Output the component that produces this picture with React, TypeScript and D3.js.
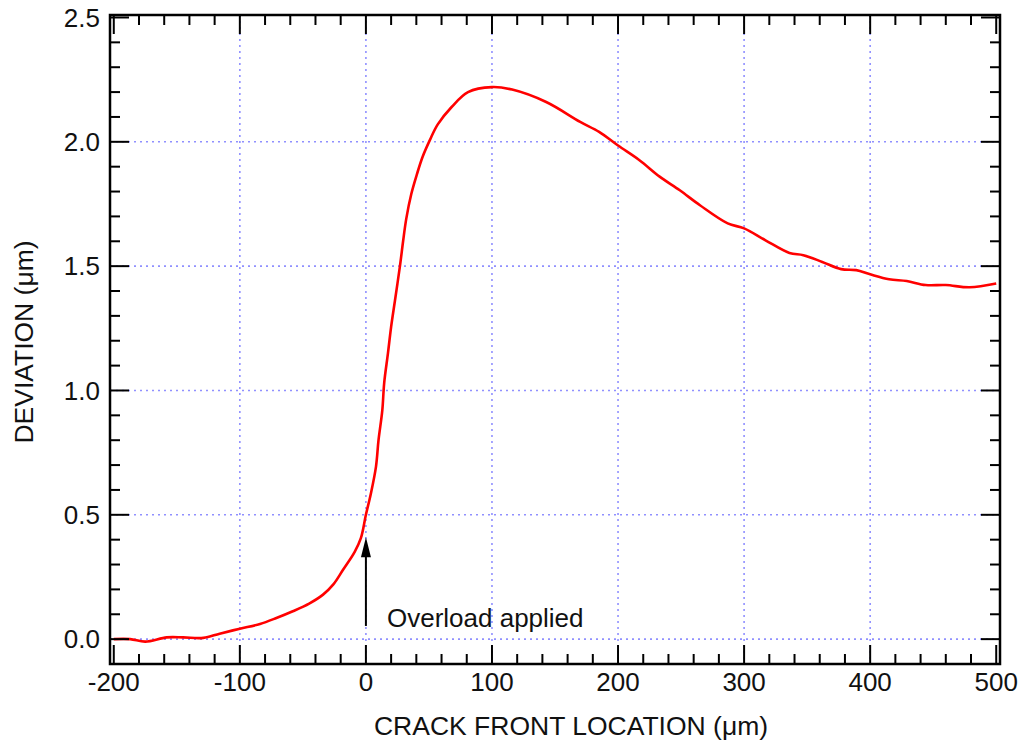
import * as d3 from "d3";

// crack front location (um) vs deviation (um)
const xs = [
  -200, -187, -175, -158, -145, -129, -116, -100, -84, -71, -58, -45, -34, -26, -18, -9, -4, 0, 4, 8, 10,
  13, 14.5, 17.5, 20, 23, 27, 29.5, 32, 36, 40.5, 45, 51, 57, 68, 81, 100, 116, 143, 170, 185, 200, 217,
  233, 249, 265, 287, 300, 317, 336, 347, 362, 377, 389, 400, 415, 429, 444, 460, 479, 500,
];
const deviation = [
  0.0, 0.0, -0.01, 0.007, 0.007, 0.005, 0.022, 0.042, 0.061, 0.085, 0.112, 0.143, 0.179, 0.219, 0.28, 0.35,
  0.406, 0.5, 0.587, 0.694, 0.8, 0.92, 1.03, 1.15, 1.256, 1.36, 1.5, 1.6, 1.69, 1.79, 1.87, 1.94,
  2.01, 2.07, 2.14, 2.2, 2.22, 2.21, 2.16, 2.08, 2.04, 1.985, 1.926, 1.86, 1.805, 1.745, 1.672, 1.652, 1.604,
  1.553, 1.544, 1.517, 1.488, 1.484, 1.467, 1.447, 1.44, 1.424, 1.424, 1.415, 1.43,
];

const xMajor = [-200, -100, 0, 100, 200, 300, 400, 500];
const yMajor = [0.0, 0.5, 1.0, 1.5, 2.0, 2.5];
const xMinor = d3.range(-200, 501, 20).filter((v) => v % 100 !== 0);
const yMinor = d3.range(0, 26, 1).map((v) => v / 10).filter((v) => Math.round(v * 10) % 5 !== 0);

const annotation = { x: 0, tip: 0.41, base: 0.053, label: "Overload applied", labelX: 16.7, labelY: 0.049 };

const W = 1023;
const H = 744;
const left = 110;
const right = 1000;
const top = 15;
const bottom = 664;
const font = "'Liberation Sans', Arial, Helvetica, sans-serif";

export default function App() {
  const x = d3.scaleLinear().domain([-203, 503]).range([left, right]);
  const y = d3.scaleLinear().domain([-0.1, 2.51]).range([bottom, top]);

  const pts: [number, number][] = xs.map((v, i) => [v, deviation[i]]);
  const line = d3
    .line<[number, number]>()
    .x((d) => x(d[0]))
    .y((d) => y(d[1]))
    .curve(d3.curveCatmullRom.alpha(0.5));

  const major = 19;
  const minor = 10;
  const gridX = xMajor.filter((v) => v > -200 && v < 500);
  const gridY = yMajor.filter((v) => v < 2.5);

  const ax = x(annotation.x);
  const tipY = y(annotation.tip);
  const baseY = y(annotation.base);

  return (
    <svg width={W} height={H} style={{ position: "absolute", left: 0, top: 0, background: "#fff" }}>
      {/* grid */}
      <g stroke="#9090ff" strokeWidth={1.6} strokeDasharray="2,4">
        {gridX.map((v) => (
          <line key={"gx" + v} x1={x(v)} x2={x(v)} y1={top} y2={bottom} />
        ))}
        {gridY.map((v) => (
          <line key={"gy" + v} x1={left} x2={right} y1={y(v)} y2={y(v)} />
        ))}
      </g>

      {/* curve */}
      <path d={line(pts) || ""} fill="none" stroke="#ff0000" strokeWidth={2.6} strokeLinejoin="round" />

      {/* ticks on all four sides */}
      <g stroke="#000" strokeWidth={2}>
        {xMajor.map((v) => (
          <g key={"xM" + v}>
            <line x1={x(v)} x2={x(v)} y1={bottom} y2={bottom - major} />
            <line x1={x(v)} x2={x(v)} y1={top} y2={top + major} />
          </g>
        ))}
        {xMinor.map((v) => (
          <g key={"xm" + v}>
            <line x1={x(v)} x2={x(v)} y1={bottom} y2={bottom - minor} />
            <line x1={x(v)} x2={x(v)} y1={top} y2={top + minor} />
          </g>
        ))}
        {yMajor.map((v) => (
          <g key={"yM" + v}>
            <line x1={left} x2={left + major} y1={y(v)} y2={y(v)} />
            <line x1={right} x2={right - major} y1={y(v)} y2={y(v)} />
          </g>
        ))}
        {yMinor.map((v) => (
          <g key={"ym" + v}>
            <line x1={left} x2={left + minor} y1={y(v)} y2={y(v)} />
            <line x1={right} x2={right - minor} y1={y(v)} y2={y(v)} />
          </g>
        ))}
      </g>

      {/* frame */}
      <rect x={left} y={top} width={right - left} height={bottom - top} fill="none" stroke="#000" strokeWidth={2.5} />

      {/* tick labels */}
      <g fontFamily={font} fontSize={26} fill="#111">
        {xMajor.map((v) => (
          <text key={"xl" + v} x={x(v)} y={bottom + 27} textAnchor="middle">
            {v}
          </text>
        ))}
        {yMajor.map((v) => (
          <text key={"yl" + v} x={left - 10} y={y(v)} dy="0.35em" textAnchor="end">
            {v.toFixed(1)}
          </text>
        ))}
      </g>

      {/* axis titles */}
      <text x={571} y={735} textAnchor="middle" fontFamily={font} fontSize={26.5} fill="#111">
        CRACK FRONT LOCATION (μm)
      </text>
      <text
        transform={`translate(33,342) rotate(-90)`}
        textAnchor="middle"
        fontFamily={font}
        fontSize={26.5}
        fill="#111"
      >
        DEVIATION (μm)
      </text>

      {/* annotation arrow */}
      <line x1={ax} x2={ax} y1={baseY} y2={tipY + 18} stroke="#000" strokeWidth={2} />
      <path d={`M${ax},${tipY} L${ax - 5},${tipY + 20} L${ax + 5},${tipY + 20} Z`} fill="#000" />
      <text x={x(annotation.labelX)} y={y(annotation.labelY)} fontFamily={font} fontSize={26} fill="#111">
        {annotation.label}
      </text>
    </svg>
  );
}
